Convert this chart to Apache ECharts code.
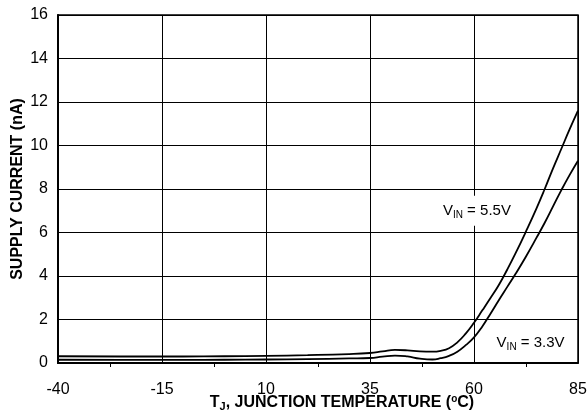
<!DOCTYPE html>
<html>
<head>
    <meta charset="utf-8" />
    <title>Supply Current vs Temperature</title>
    <script src="https://cdn.jsdelivr.net/npm/echarts@6/dist/echarts.min.js"></script>
    <style>
        html, body { margin: 0; padding: 0; background: #fff; }
        #main { width: 588px; height: 418px; }
    </style>
</head>
<body>
    <div id="main"></div>
    <script type="text/javascript">
        // junction temperature (degC)
        var temps = [-40, -25, -10, 0, 10, 20, 30, 35, 38, 41, 44, 47, 50, 52, 54, 56, 58, 60, 62, 64, 66, 68, 70, 72.5, 75, 77, 79, 81, 83, 85];
        // supply current (nA), VIN = 5.5V
        var vin55 = [0.31, 0.30, 0.30, 0.31, 0.33, 0.36, 0.41, 0.46, 0.53, 0.60, 0.58, 0.53, 0.52, 0.56, 0.68, 0.95, 1.35, 1.85, 2.42, 3.0, 3.6, 4.3, 5.05, 6.05, 7.1, 8.0, 8.95, 9.85, 10.75, 11.6];
        // supply current (nA), VIN = 3.3V
        var vin33 = [0.15, 0.14, 0.14, 0.15, 0.16, 0.18, 0.21, 0.23, 0.29, 0.34, 0.30, 0.20, 0.16, 0.22, 0.33, 0.52, 0.82, 1.18, 1.68, 2.28, 2.9, 3.5, 4.1, 4.9, 5.75, 6.45, 7.2, 7.95, 8.65, 9.3];
        var xTicks = [-40, -15, 10, 35, 60, 85];
        var yTicks = [0, 2, 4, 6, 8, 10, 12, 14, 16];

        function pairs(ys) {
            return temps.map(function (t, i) { return [t, ys[i]]; });
        }

        var font = '"Liberation Sans", Arial, sans-serif';
        var vinRich = {
            v: { fontFamily: font, fontSize: 15, color: '#000', lineHeight: 18 },
            s: { fontFamily: font, fontSize: 10, color: '#000', verticalAlign: 'bottom', lineHeight: 12, padding: [6, 0, 0, 0] }
        };

        var myChart = echarts.init(document.getElementById('main'));
        var option = {
            animation: false,
            backgroundColor: '#fff',
            grid: {
                left: 58, right: 10, top: 15, bottom: 55,
                containLabel: false,
                outerBoundsMode: 'none',
                show: true, borderColor: '#000', borderWidth: 1.5
            },
            xAxis: {
                type: 'value',
                min: xTicks[0],
                max: xTicks[xTicks.length - 1],
                interval: 25,
                axisLine: { show: true, onZero: false, lineStyle: { color: '#000', width: 2 } },
                axisTick: { show: false },
                minorTick: { show: true, splitNumber: 2, length: 4, lineStyle: { color: '#000', width: 1 } },
                splitLine: { show: true, lineStyle: { color: '#000', width: 1 } },
                axisLabel: { color: '#000', fontFamily: font, fontSize: 16, margin: 19 },
                name: '{b|T}{s|J}{b|, JUNCTION TEMPERATURE (}{o|o}{b|C)}',
                nameLocation: 'middle',
                nameGap: 31,
                nameMoveOverlap: false,
                nameTextStyle: {
                    padding: [0, 0, 0, 48],
                    rich: {
                        b: { fontFamily: font, fontWeight: 'bold', fontSize: 16, color: '#000', lineHeight: 18 },
                        s: { fontFamily: font, fontWeight: 'bold', fontSize: 11, color: '#000', verticalAlign: 'bottom', lineHeight: 12, padding: [6, 0, 0, 0] },
                        o: { fontFamily: font, fontWeight: 'bold', fontSize: 10, color: '#000', verticalAlign: 'top', lineHeight: 9, padding: [0, 0, 6, 0] }
                    }
                }
            },
            yAxis: {
                type: 'value',
                min: yTicks[0],
                max: yTicks[yTicks.length - 1],
                interval: 2,
                axisLine: { show: true, onZero: false, lineStyle: { color: '#000', width: 2 } },
                axisTick: { show: true, inside: true, length: 5, lineStyle: { color: '#000' } },
                splitLine: { show: true, lineStyle: { color: '#000', width: 1 } },
                axisLabel: { color: '#000', fontFamily: font, fontSize: 16, margin: 10 },
                name: 'SUPPLY CURRENT (nA)',
                nameLocation: 'middle',
                nameGap: 32,
                nameMoveOverlap: false,
                nameTextStyle: { fontFamily: font, fontWeight: 'bold', fontSize: 16, color: '#000' }
            },
            series: [
                {
                    name: 'VIN = 5.5V',
                    type: 'line',
                    data: pairs(vin55),
                    showSymbol: false,
                    smooth: 0.5,
                    lineStyle: { color: '#000', width: 1.8 },
                    markPoint: {
                        symbol: 'circle',
                        symbolSize: 0,
                        label: {
                            show: true, position: 'inside',
                            backgroundColor: '#fff', padding: [6, 4],
                            formatter: '{v|V}{s|IN}{v| = 5.5V}',
                            rich: vinRich
                        },
                        data: [{ coord: [60.7, 7.0] }]
                    }
                },
                {
                    name: 'VIN = 3.3V',
                    type: 'line',
                    data: pairs(vin33),
                    showSymbol: false,
                    smooth: 0.5,
                    lineStyle: { color: '#000', width: 1.8 },
                    markPoint: {
                        symbol: 'circle',
                        symbolSize: 0,
                        label: {
                            show: true, position: 'inside',
                            backgroundColor: '#fff', padding: [3, 3],
                            formatter: '{v|V}{s|IN}{v| = 3.3V}',
                            rich: vinRich
                        },
                        data: [{ coord: [73.6, 0.92] }]
                    }
                }
            ]
        };
        myChart.setOption(option);
    </script>
</body>
</html>
